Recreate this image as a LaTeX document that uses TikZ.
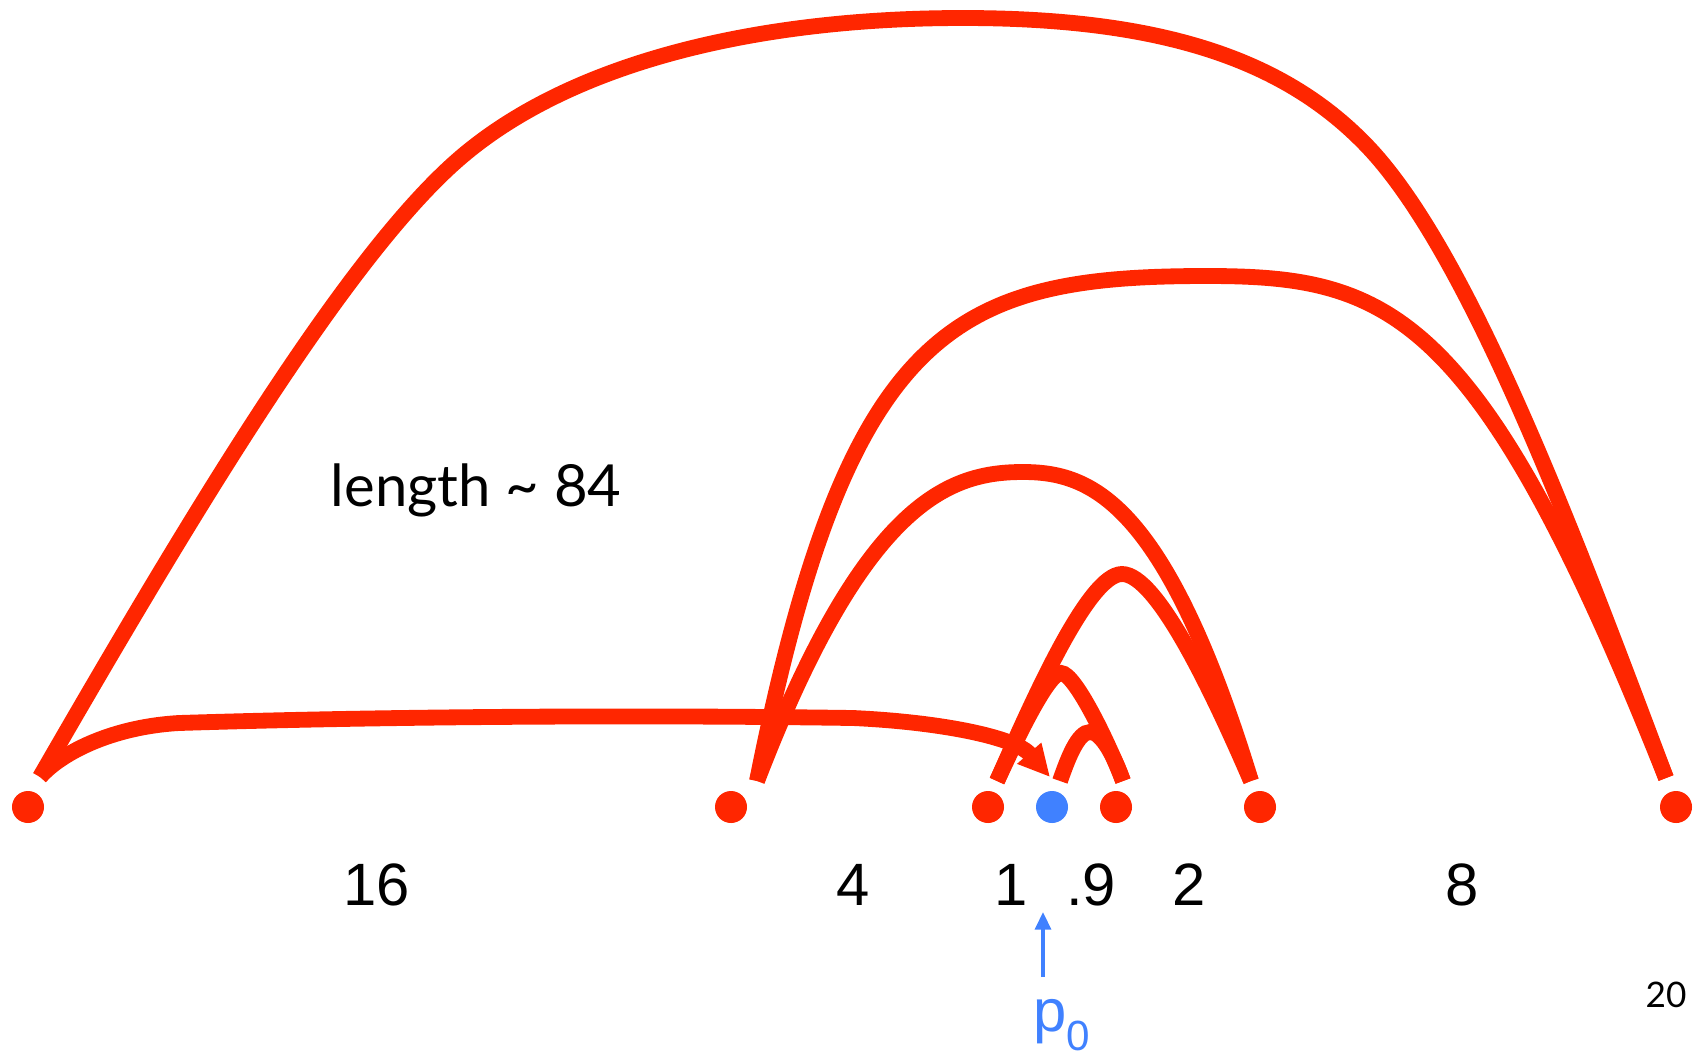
\documentclass[tikz,border=0pt]{standalone}
\usepackage{fontspec}
\setmainfont{Liberation Sans}
\newfontfamily\notefont{Lato}
\usetikzlibrary{arrows.meta}

\begin{document}
\begin{tikzpicture}[x=0.01cm, y=-0.01cm,
    tour/.style={draw=arcColour, line width=4.5pt},
    stop/.style={circle, fill=arcColour, minimum size=0.32cm, inner sep=0pt},
    gap/.style={anchor=base, inner sep=0pt, font=\fontsize{17}{20}\selectfont}]
    % Define colours
    \definecolor{arcColour}{HTML}{FF2600}
    \definecolor{startColour}{HTML}{4081FF}

    % Fix the frame
    \useasboundingbox (0,0) rectangle (1697,1054);

    % Draw the stops, s0 is the start p0
    \node[stop] (s6) at (28,807) {};
    \node[stop] (s4) at (731,807) {};
    \node[stop] (s2) at (988,807) {};
    \node[stop, fill=startColour] (s0) at (1052,807) {};
    \node[stop] (s1) at (1116,807) {};
    \node[stop] (s3) at (1260,807) {};
    \node[stop] (s5) at (1676,807) {};

    % Feet of the arcs, just above the stops
    \coordinate (f0) at (1060,781);
    \coordinate (f1) at (1123,781);
    \coordinate (f2) at (997,781);
    \coordinate (f3) at (1251,781);
    \coordinate (f4) at (757,781);
    \coordinate (f5) at (1666,778);
    \coordinate (f6) at (40,777);
    \coordinate (back) at (1050,777);

    % Draw the tour, one arc for each step
    \draw[tour] (f0) .. controls (1068,758) and (1078,732) .. (1090,732)
        .. controls (1102,732) and (1115,758) .. (f1);
    \draw[tour] (f1) .. controls (1109,744) and (1075,673) .. (1061,673)
        .. controls (1048,673) and (1017,738) .. (f2);
    \draw[tour] (f2) .. controls (1032,702) and (1088,574) .. (1122,574)
        .. controls (1157,574) and (1213,693) .. (f3);
    \draw[tour] (f3) .. controls (1165,500) and (1090,472) .. (1023,472)
        .. controls (950,472) and (865,500) .. (f4);
    \draw[tour] (f4) .. controls (848,325) and (955,276) .. (1207,276)
        .. controls (1390,276) and (1480,310) .. (f5);
    \draw[tour] (f5) .. controls (1578,544) and (1472,258) .. (1369,148)
        .. controls (1286,60) and (1163,18) .. (963,18)
        .. controls (763,18) and (574,60) .. (460,158)
        .. controls (346,256) and (190,517) .. (f6);

    % Way back to the start
    \draw[tour, -{Triangle[length=9pt, width=8.5pt]}] (f6) .. controls (60,754) and (110,727) .. (179,723)
        .. controls (400,716) and (650,715) .. (853,718)
        .. controls (940,722) and (1015,737) .. (back);

    % Label the gaps
    \node[gap] (g16) at (377,905) {16};
    \node[gap] (g4) at (853,905) {4};
    \node[gap] (g1) at (1011,905) {1};
    \node[gap] (g9) at (1091,905) {.9};
    \node[gap] (g2) at (1189,905) {2};
    \node[gap] (g8) at (1462,905) {8};

    % Mark the start
    \node[anchor=base west, inner sep=0pt, text=startColour, font=\fontsize{17}{20}\selectfont] (plabel) at (1033,1031) {p\raisebox{-5.4pt}{\fontsize{12}{12}\selectfont 0}};
    \coordinate (pbase) at (1043,977);
    \coordinate (ptip) at (1043,912);
    \draw[startColour, line width=1pt, -{Triangle[length=5pt, width=4.5pt]}] (pbase) -- (ptip);

    % Notes
    \node[anchor=base west, inner sep=0pt, font=\notefont\fontsize{16.5}{20}\selectfont] (lengthnote) at (330,506) {length \textasciitilde\ 84};
    \node[anchor=base west, inner sep=0pt, font=\notefont\fontsize{10}{12}\selectfont] (pagenum) at (1645,1007) {20};
\end{tikzpicture}
\end{document}
